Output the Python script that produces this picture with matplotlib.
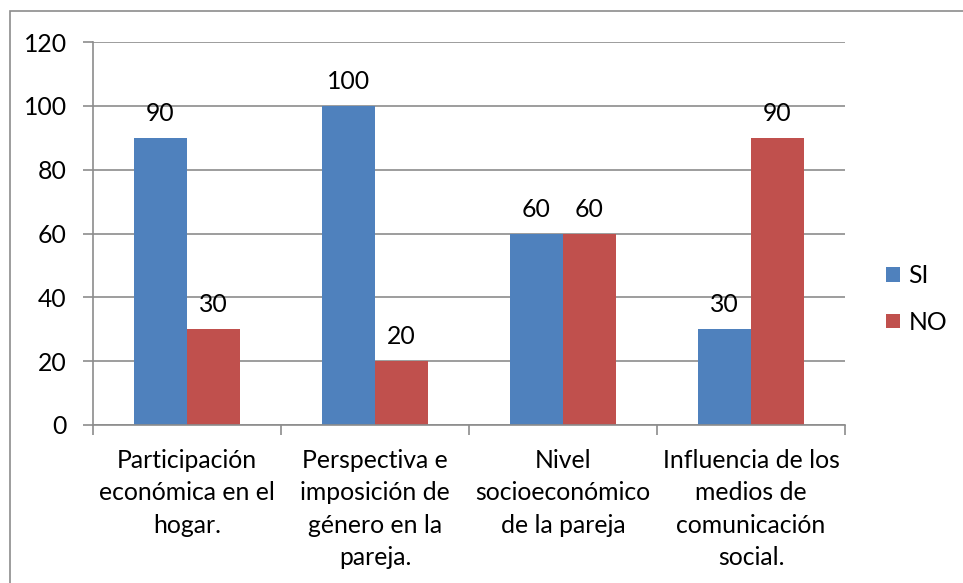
import numpy as np
import matplotlib.pyplot as plt
from matplotlib.patches import Rectangle

categories = ['Participación\neconómica en el\nhogar.',
              'Perspectiva e\nimposición de\ngénero en la\npareja.',
              'Nivel\nsocioeconómico\nde la pareja',
              'Influencia de los\nmedios de\ncomunicación\nsocial.']
si = [90, 100, 60, 30]
no = [30, 20, 60, 90]

plt.rcParams['font.family'] = ['Lato', 'DejaVu Sans']
fs = 17.8

W, H = 963, 583
fig = plt.figure(figsize=(W / 100, H / 100), dpi=100)
ax = fig.add_axes([93 / W, 1 - 425 / H, (845 - 93) / W, (425 - 42) / H])

# outer chart border (right and bottom edges fall outside the picture)
fig.patches.append(Rectangle((10 / W, -0.05), 1.1, 1.05 - 11 / H, transform=fig.transFigure,
                             fill=False, edgecolor='#8c8c8c', linewidth=1.2))

x = np.arange(len(categories))
bw = 0.282
b1 = ax.bar(x - bw / 2, si, bw, color='#4f81bd', label='SI')
b2 = ax.bar(x + bw / 2, no, bw, color='#c0504d', label='NO')

for bars in (b1, b2):
    for b in bars:
        ax.text(b.get_x() + b.get_width() / 2, b.get_height() + 4, f'{b.get_height():.0f}',
                ha='center', va='bottom', fontsize=fs)

ax.set_xlim(-0.5, 3.5)
ax.set_ylim(0, 120)
ax.set_yticks(range(0, 121, 20))
ax.yaxis.grid(True, color='#8c8c8c', linewidth=1.2)
ax.set_axisbelow(True)

for s in ['top', 'right']:
    ax.spines[s].set_visible(False)
for s in ['left', 'bottom']:
    ax.spines[s].set_color('#8c8c8c')
    ax.spines[s].set_linewidth(1.2)

ax.set_xticks(np.arange(-0.5, 4, 1))
ax.set_xticklabels([])
ax.set_xticks(x, minor=True)
ax.set_xticklabels(categories, minor=True, fontsize=fs, linespacing=1.5, va='top')
ax.tick_params(axis='x', which='minor', length=0, pad=17)
ax.tick_params(axis='x', which='major', length=7, color='#8c8c8c', width=1.2)
ax.tick_params(axis='y', length=7, color='#8c8c8c', width=1.2, labelsize=fs, pad=12)

fig.legend(handles=[b1, b2], loc='center left', bbox_to_anchor=(886 / W, 1 - 299 / H),
           frameon=False, fontsize=fs, handlelength=0.55, handleheight=0.55,
           handletextpad=0.35, labelspacing=0.95, borderaxespad=0, borderpad=0)

fig.savefig('out.png', dpi=100)
